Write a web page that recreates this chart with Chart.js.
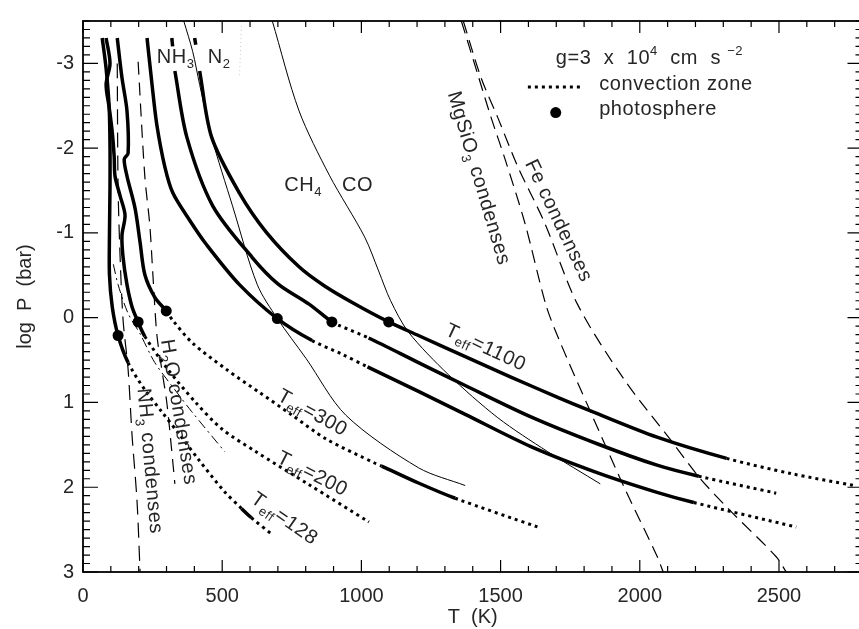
<!DOCTYPE html>
<html>
<head>
<meta charset="utf-8">
<title>Brown dwarf P-T profiles</title>
<script src="https://cdn.jsdelivr.net/npm/chart.js@4.4.1/dist/chart.umd.min.js"></script>
<style>
  html, body { margin: 0; padding: 0; background: #fff; overflow: hidden; }
  #wrap { width: 859px; height: 629px; overflow: hidden; }
  canvas { display: block; }
</style>
</head>
<body>
<div id="wrap"><canvas id="pt" width="868" height="629"></canvas></div>
<script>
/* Model atmosphere profiles, g = 3e4 cm s^-2: T in K, log P in bar */
const teff128T = [69, 83, 94, 97, 97, 95, 95, 105, 126, 162, 222, 283, 347, 419, 505, 569, 605, 680];
const teff128P = [-3.30, -2.94, -2.48, -2.02, -1.55, -0.97, -0.51, -0.13, 0.21, 0.53, 0.85, 1.11, 1.38, 1.69, 2.04, 2.25, 2.36, 2.56];
const teff128Conv = [[162, 569], [605, 680]];

const teff200T = [83, 97, 83, 94, 105, 112, 115, 133, 151, 140, 144, 158, 176, 198, 222, 305, 402, 498, 616, 812, 1027];
const teff200P = [-3.30, -3.00, -2.75, -2.48, -2.19, -1.90, -1.67, -1.44, -1.21, -0.97, -0.71, -0.39, -0.13, 0.05, 0.22, 0.61, 0.99, 1.31, 1.57, 1.97, 2.41];
const teff200Conv = [[222, 1027]];

const teff300T = [123, 140, 158, 162, 148, 158, 187, 205, 222, 258, 299, 322, 394, 515, 633, 751, 873, 1051, 1073, 1205, 1337, 1634];
const teff300P = [-3.30, -2.83, -2.44, -1.94, -1.87, -1.67, -1.29, -0.89, -0.51, -0.24, -0.08, 0.03, 0.30, 0.61, 0.88, 1.15, 1.43, 1.72, 1.75, 1.95, 2.13, 2.47];
const teff300Conv = [[299, 1073], [1337, 1634]];

const teff700T = [230, 248, 265, 294, 323, 383, 444, 562, 698, 823, 930, 1022, 1205, 1373, 1609, 1849, 2062, 2194, 2562];
const teff700P = [-3.30, -2.75, -2.28, -1.78, -1.47, -1.15, -0.86, -0.39, 0.01, 0.27, 0.43, 0.58, 0.87, 1.14, 1.52, 1.83, 2.06, 2.18, 2.47];
const teff700Conv = [[823, 1022], [2194, 2562]];

// null = break in the curve where the species labels sit
const teff900T = [319, 322, null, 330, 373, 466, 608, 700, 812, 894, 919, 1026, 1205, 1373, 1609, 1849, 2062, 2212, 2490];
const teff900P = [-3.30, -3.20, null, -2.91, -2.13, -1.32, -0.71, -0.40, -0.16, 0.05, 0.09, 0.24, 0.53, 0.80, 1.17, 1.49, 1.74, 1.87, 2.07];
const teff900Conv = [[894, 1026], [2212, 2490]];

const teff1100T = [401, 405, null, 419, 462, 562, 658, 776, 865, 972, 1098, 1205, 1373, 1537, 1705, 1823, 2062, 2312, 2545, 2770];
const teff1100P = [-3.30, -3.22, null, -2.91, -2.13, -1.47, -1.01, -0.60, -0.38, -0.17, 0.05, 0.21, 0.46, 0.70, 0.94, 1.10, 1.41, 1.66, 1.84, 1.98];
const teff1100Conv = [[2312, 2770]];

// photosphere of each model
const photoT = [126, 198, 299, 698, 894, 1098];
const photoP = [0.21, 0.05, -0.08, 0.01, 0.05, 0.05];

// chemical equilibrium boundaries
const nh3n2T = [362, 394, 419, 462, 537, 626, 698, 801, 944, 1205, 1373];
const nh3n2P = [-3.50, -3.14, -2.75, -2.13, -1.32, -0.39, 0.01, 0.48, 1.15, 1.77, 1.98];
const ch4coT = [680, 776, 885, 1012, 1062, 1105, 1169, 1312, 1490, 1669, 1858];
const ch4coP = [-3.50, -2.44, -1.68, -0.95, -0.55, -0.20, 0.17, 0.67, 1.18, 1.58, 1.96];

// condensation curves
const h2oT = [198, 222, 240, 251, 265, 283, 301, 319, 330];
const h2oP = [-3.02, -1.67, -1.09, -0.51, 0.19, 0.61, 1.00, 1.58, 1.96];
const nh3T = [123, 126, 133, 144, 162, 176, 194, 205];
const nh3P = [-3.00, -1.55, -0.74, 0.03, 0.61, 1.38, 2.16, 3.00];
const dashDotT = [109, 126, 162, 205, 258, 330, 391, 509];
const dashDotP = [-0.63, -0.39, -0.05, 0.19, 0.53, 0.85, 1.11, 1.58];
const mgsio3T = [1359, 1419, 1466, 1516, 1587, 1662, 1705, 1823, 1944, 2063, 2084];
const mgsio3P = [-3.50, -2.86, -2.36, -1.87, -1.12, -0.16, 0.22, 1.11, 2.00, 2.82, 3.00];
const feT = [1366, 1430, 1490, 1562, 1658, 1776, 1944, 2122, 2215, 2323, 2490, 2526];
const feP = [-3.50, -2.83, -2.36, -1.78, -1.12, -0.16, 0.73, 1.49, 1.89, 2.27, 2.82, 3.00];
const faintT = [569, 562];
const faintP = [-3.44, -2.83];

// axes
const xTicks = [0, 500, 1000, 1500, 2000, 2500];
const yTicks = [-3, -2, -1, 0, 1, 2, 3];

const FONT = "'Liberation Sans', Arial, sans-serif";
const INK = "#262626";

const pts = (T, P) => T.map((t, i) => ({ x: t, y: P[i] }));

const inConv = (c, conv) => {
  const mid = (c.p0.parsed.x + c.p1.parsed.x) / 2;
  return conv.some(([a, b]) => mid >= a && mid <= b);
};

const profile = (T, P, conv) => ({
  data: pts(T, P),
  showLine: true,
  pointRadius: 0,
  borderColor: "#000",
  borderWidth: 3.5,
  borderCapStyle: "butt",
  tension: 0.3,
  spanGaps: false,
  segment: {
    borderDash: (c) => (inConv(c, conv) ? [3, 4] : undefined),
    borderWidth: (c) => (inConv(c, conv) ? 3 : 3.5),
  },
});

const thin = (T, P, dash, width, color) => ({
  data: pts(T, P),
  showLine: true,
  pointRadius: 0,
  borderColor: color || "#000",
  borderWidth: width,
  borderDash: dash,
  tension: 0.3,
});

/* text pieces: [text, "sub" | "sup" | undefined] */
function drawParts(ctx, parts, x, y, angle, centered) {
  ctx.save();
  ctx.translate(x, y);
  ctx.rotate((angle * Math.PI) / 180);
  ctx.fillStyle = INK;
  ctx.textBaseline = "alphabetic";
  ctx.letterSpacing = "0.6px";
  let total = 0;
  const sized = parts.map(([t, kind]) => {
    ctx.font = (kind ? 13 : 20) + "px " + FONT;
    const w = ctx.measureText(t).width;
    total += w;
    return { t, kind, w };
  });
  let cx = centered ? -total / 2 : 0;
  const base = centered ? 7 : 0;
  for (const p of sized) {
    ctx.font = (p.kind ? 13 : 20) + "px " + FONT;
    const dy = p.kind === "sub" ? 5 : p.kind === "sup" ? -9 : 0;
    ctx.fillText(p.t, cx, base + dy);
    cx += p.w;
  }
  ctx.restore();
}

const notes = [
  { parts: [["NH"], ["3", "sub"]], T: 265, P: -3.0 },
  { parts: [["N"], ["2", "sub"]], T: 448, P: -3.0 },
  { parts: [["CH"], ["4", "sub"]], T: 723, P: -1.49 },
  { parts: [["CO"]], T: 930, P: -1.49 },
  { parts: [["g=3  x  10"], ["4", "sup"], ["  cm  s "], ["\u22122", "sup"]], T: 1698, P: -2.99 },
  { parts: [["convection zone"]], T: 1854, P: -2.69 },
  { parts: [["photosphere"]], T: 1854, P: -2.39 },
  { parts: [["H"], ["2", "sub"], ["O condenses"]], T: 348, P: 1.11, angle: 80.6, centered: true },
  { parts: [["NH"], ["3", "sub"], [" condenses"]], T: 244, P: 1.69, angle: 85, centered: true },
  { parts: [["MgSiO"], ["3", "sub"], [" condenses"]], T: 1426, P: -1.65, angle: 73.5, centered: true },
  { parts: [["Fe condenses"]], T: 1712, P: -1.15, angle: 64.6, centered: true },
  { parts: [["T"], ["eff", "sub"], ["=1100"]], T: 1448, P: 0.34, angle: 25, centered: true },
  { parts: [["T"], ["eff", "sub"], ["=300"]], T: 826, P: 1.11, angle: 29, centered: true },
  { parts: [["T"], ["eff", "sub"], ["=200"]], T: 826, P: 1.83, angle: 27, centered: true },
  { parts: [["T"], ["eff", "sub"], ["=128"]], T: 726, P: 2.36, angle: 35, centered: true },
];

// legend samples (data coordinates)
const keyDotted = { T0: 1598, T1: 1794, P: -2.72 };
const keyDot = { T: 1698, P: -2.42 };

const frame = {
  id: "frame",
  afterDatasetsDraw(chart) {
    const { ctx, chartArea: a, scales: { x, y } } = chart;
    ctx.save();
    ctx.strokeStyle = "#000";
    ctx.lineWidth = 1.8;
    ctx.strokeRect(a.left, a.top, a.right - a.left, a.bottom - a.top);
    ctx.lineWidth = 1.2;
    ctx.beginPath();
    for (let t = 0; t <= x.max; t += 100) {
      const px = x.getPixelForValue(t);
      const len = t % 500 === 0 ? 12 : 6;
      ctx.moveTo(px, a.bottom); ctx.lineTo(px, a.bottom - len);
      ctx.moveTo(px, a.top); ctx.lineTo(px, a.top + len);
    }
    for (let i = -35; i <= 30; i++) {
      const py = y.getPixelForValue(i / 10);
      const len = i % 10 === 0 ? 15 : 7;
      ctx.moveTo(a.left, py); ctx.lineTo(a.left + len, py);
      ctx.moveTo(a.right, py); ctx.lineTo(a.right - len, py);
    }
    ctx.stroke();

    // key: dotted convection sample and photosphere dot
    ctx.lineWidth = 3;
    ctx.setLineDash([3, 4]);
    ctx.beginPath();
    const ky = y.getPixelForValue(keyDotted.P);
    ctx.moveTo(x.getPixelForValue(keyDotted.T0), ky);
    ctx.lineTo(x.getPixelForValue(keyDotted.T1), ky);
    ctx.stroke();
    ctx.setLineDash([]);
    ctx.fillStyle = "#000";
    ctx.beginPath();
    ctx.arc(x.getPixelForValue(keyDot.T), y.getPixelForValue(keyDot.P), 5.5, 0, Math.PI * 2);
    ctx.fill();

    for (const n of notes) {
      drawParts(ctx, n.parts, x.getPixelForValue(n.T), y.getPixelForValue(n.P), n.angle || 0, n.centered);
    }
    ctx.restore();
  },
};

const tickFont = { family: FONT, size: 20 };

new Chart(document.getElementById("pt"), {
  type: "scatter",
  data: {
    datasets: [
      thin(faintT, faintP, [1, 3], 1, "#c8c8c8"),
      thin(nh3n2T, nh3n2P, [], 1),
      thin(ch4coT, ch4coP, [], 1),
      thin(h2oT, h2oP, [13, 8], 1.2),
      thin(nh3T, nh3P, [15, 8], 1.2),
      thin(dashDotT, dashDotP, [10, 4, 2, 4], 1),
      thin(mgsio3T, mgsio3P, [13, 7], 1.2),
      thin(feT, feP, [13, 7], 1.2),
      profile(teff128T, teff128P, teff128Conv),
      profile(teff200T, teff200P, teff200Conv),
      profile(teff300T, teff300P, teff300Conv),
      profile(teff700T, teff700P, teff700Conv),
      profile(teff900T, teff900P, teff900Conv),
      profile(teff1100T, teff1100P, teff1100Conv),
      {
        data: pts(photoT, photoP),
        showLine: false,
        pointRadius: 5.5,
        pointBackgroundColor: "#000",
        pointBorderWidth: 0,
      },
    ],
  },
  options: {
    responsive: false,
    animation: false,
    events: [],
    layout: { padding: { top: 12, right: 1, left: 0, bottom: 0 } },
    plugins: { legend: { display: false }, tooltip: { enabled: false } },
    scales: {
      x: {
        type: "linear",
        min: 0,
        max: 2800,
        afterBuildTicks: (s) => { s.ticks = xTicks.map((v) => ({ value: v })); },
        afterFit: (s) => { s.height = 57; },
        grid: { display: false, drawTicks: false },
        border: { display: false },
        ticks: { font: tickFont, color: INK, padding: 12, maxRotation: 0, callback: (v) => String(v) },
        title: { display: true, text: "T  (K)", font: tickFont, color: INK, padding: { top: 0, bottom: 0 } },
      },
      y: {
        type: "linear",
        reverse: true,
        min: -3.5,
        max: 3,
        afterBuildTicks: (s) => { s.ticks = yTicks.map((v) => ({ value: v })); },
        afterFit: (s) => { s.width = 83; },
        grid: { display: false, drawTicks: false },
        border: { display: false },
        ticks: { font: tickFont, color: INK, padding: 9, callback: (v) => String(v) },
        title: { display: true, text: "log  P  (bar)", font: tickFont, color: INK, padding: { top: 13, bottom: 0 } },
      },
    },
  },
  plugins: [frame],
});
</script>
</body>
</html>
